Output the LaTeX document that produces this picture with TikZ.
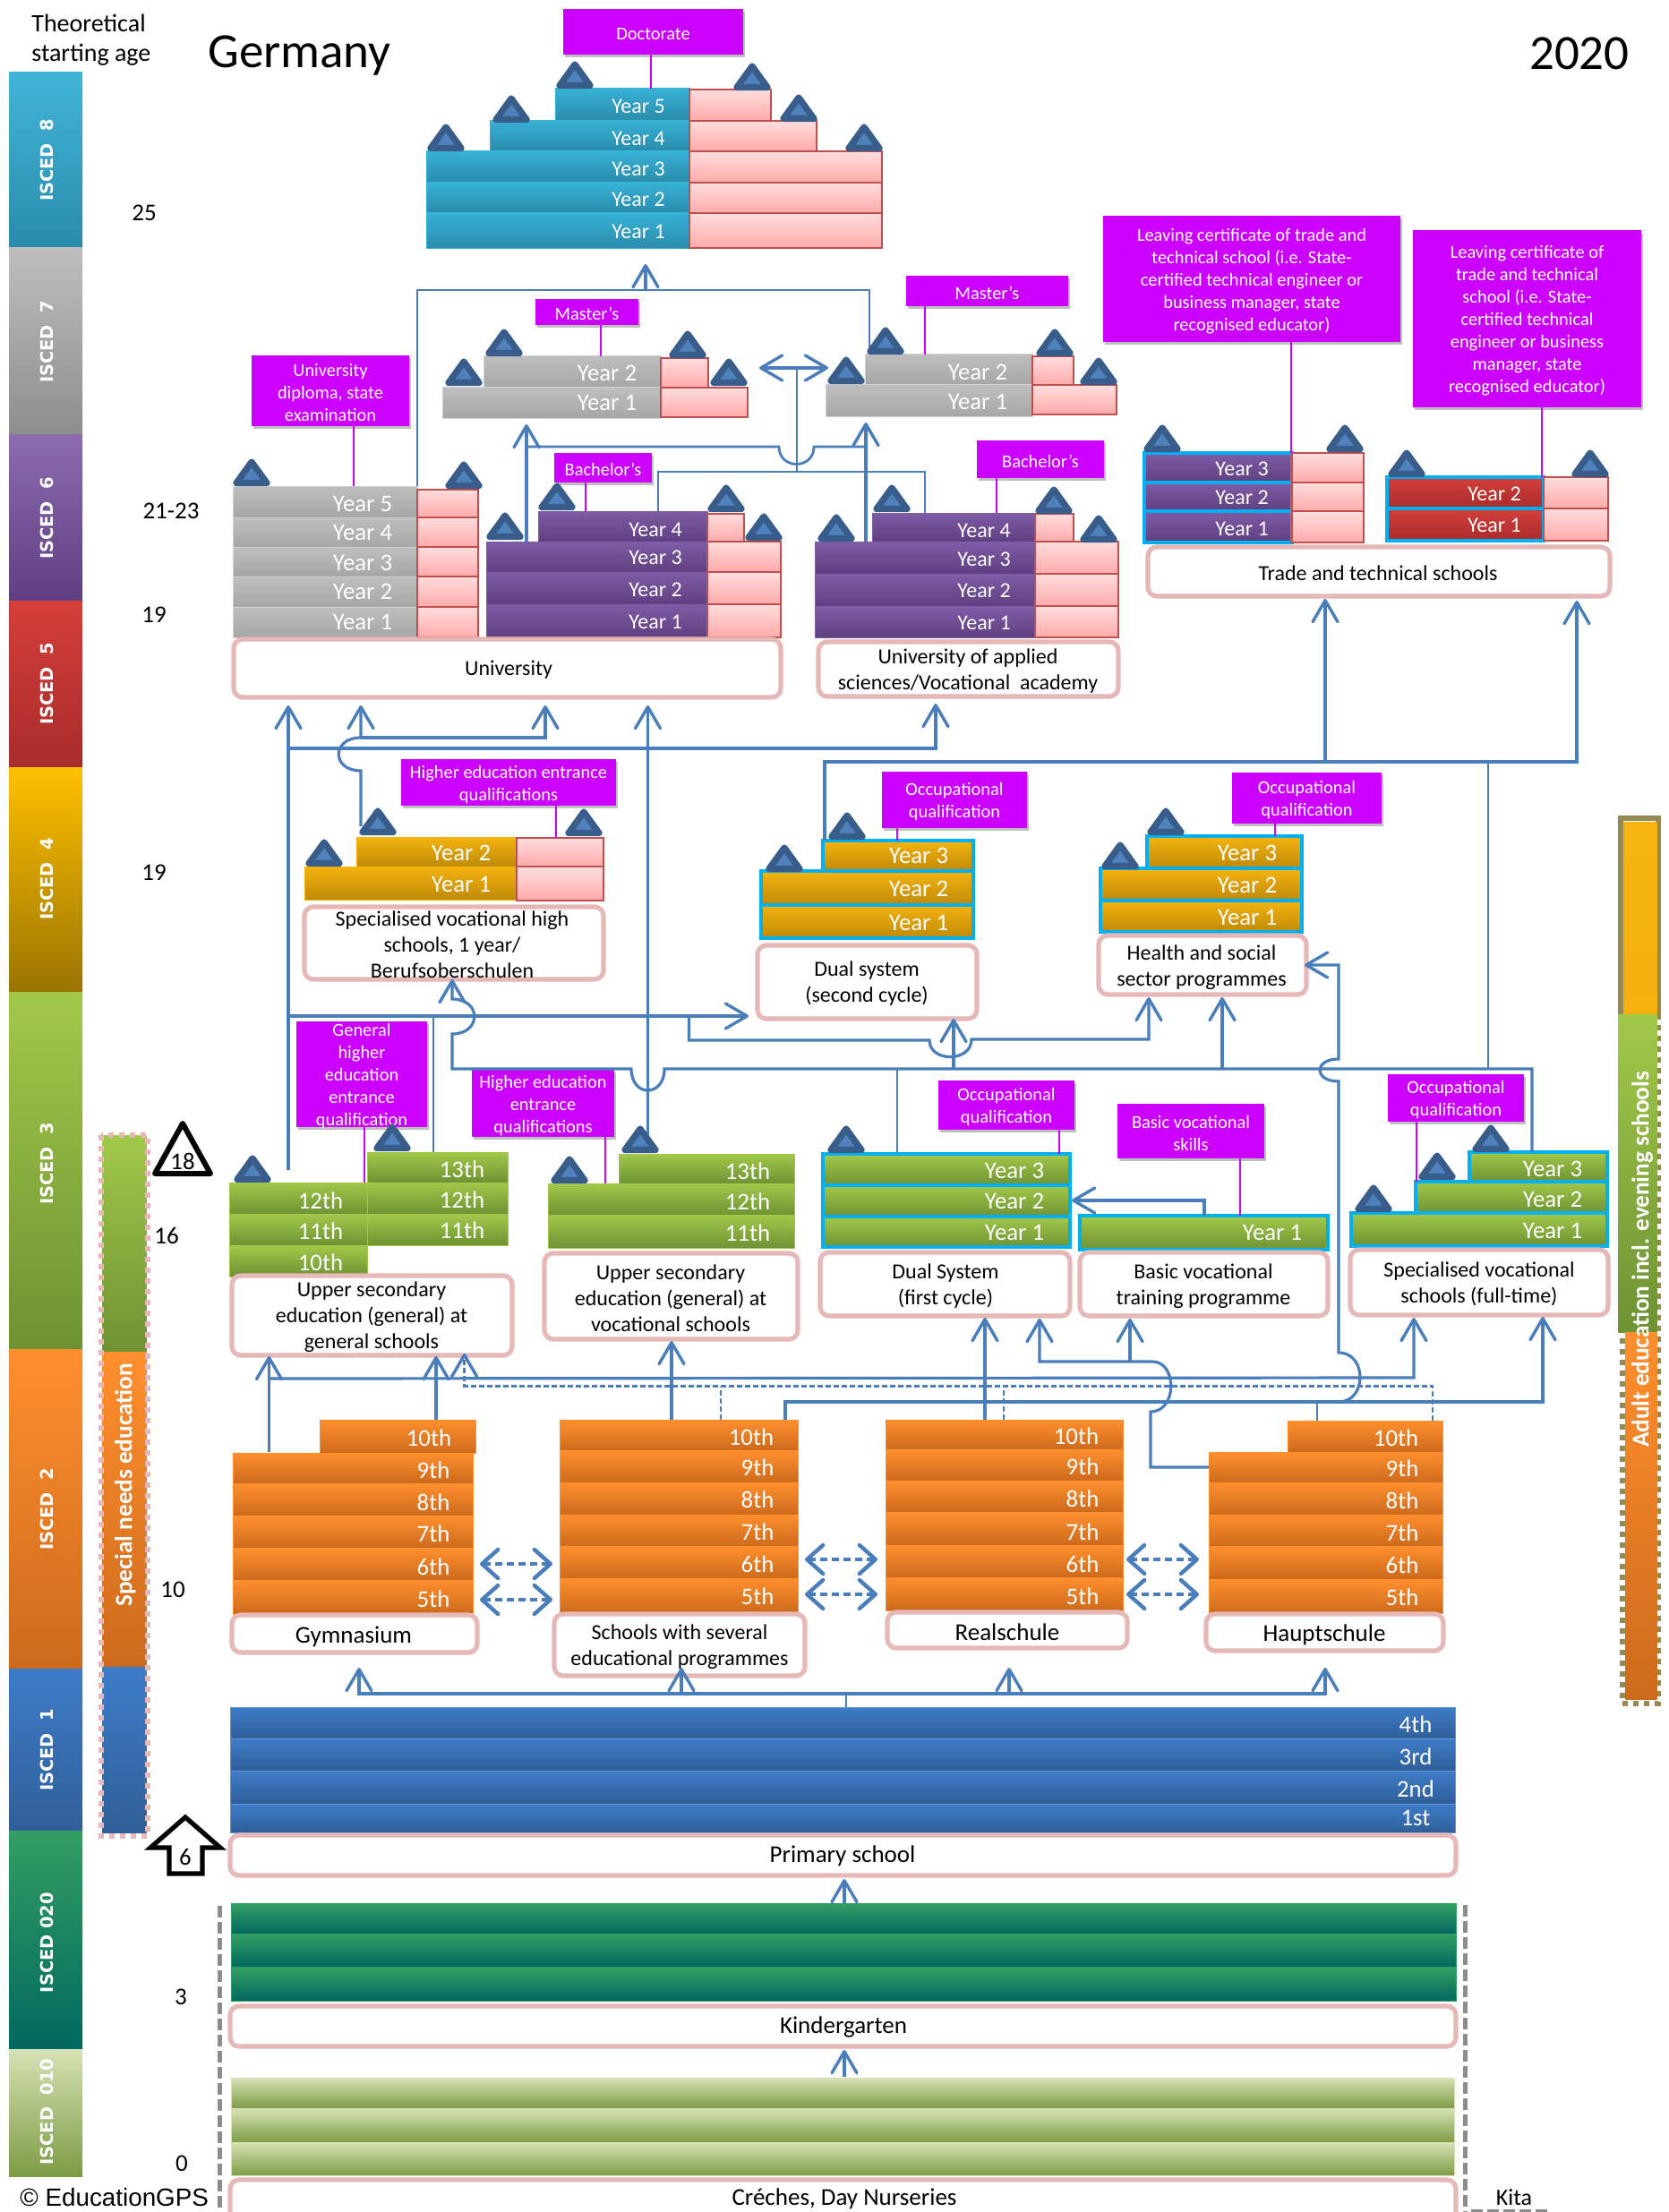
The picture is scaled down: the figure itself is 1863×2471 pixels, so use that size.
\documentclass[tikz,border=0pt]{standalone}
\usepackage{fontspec}
\setmainfont{Carlito}
\newfontfamily\iscedf{DejaVu Sans}
\newfontfamily\arialf{Liberation Sans}
\usetikzlibrary{arrows.meta,shadows}
\definecolor{cyT}{HTML}{37B1D6}\definecolor{cyB}{HTML}{2A8BAB}
\definecolor{grT}{HTML}{BEBEBE}\definecolor{grB}{HTML}{A6A6A6}
\definecolor{puT}{HTML}{7F5CA6}\definecolor{puB}{HTML}{5F3F80}
\definecolor{reT}{HTML}{D43F3A}\definecolor{reB}{HTML}{A82B2B}
\definecolor{yeT}{HTML}{F4B30F}\definecolor{yeB}{HTML}{C08A08}
\definecolor{iyT}{HTML}{FFC000}\definecolor{iyB}{HTML}{9A7400}
\definecolor{geT}{HTML}{A2C84A}\definecolor{geB}{HTML}{6E9233}
\definecolor{orT}{HTML}{FF8F2E}\definecolor{orB}{HTML}{CC6A1C}
\definecolor{blT}{HTML}{3E7CC8}\definecolor{blB}{HTML}{2F5F98}
\definecolor{dgT}{HTML}{339E63}\definecolor{dgB}{HTML}{00685F}
\definecolor{lgT}{HTML}{D6E2B4}\definecolor{lgB}{HTML}{7D9B45}
\definecolor{rdT}{HTML}{FFDDDD}\definecolor{rdB}{HTML}{FFAAAA}
\definecolor{rdL}{HTML}{C0504D}
\definecolor{frm}{HTML}{00B0F0}
\definecolor{pnk}{HTML}{E6B8B7}
\definecolor{mag}{HTML}{CC00FF}
\definecolor{cnn}{HTML}{4A7EBB}
\definecolor{triF}{HTML}{4F81BD}\definecolor{triL}{HTML}{385D8A}
\definecolor{olv}{HTML}{948A54}
\tikzset{
 cyrow/.style={top color=cyT,bottom color=cyB,draw=cyT,line width=.5pt},
 grrow/.style={top color=grT,bottom color=grB,draw=grT!70!white,line width=.5pt},
 purow/.style={top color=puT,bottom color=puB,draw=puT,line width=.5pt},
 rerow/.style={top color=reT,bottom color=reB,draw=reT,line width=.5pt},
 yerow/.style={top color=yeT,bottom color=yeB,draw=yeT,line width=.5pt},
 gerow/.style={top color=geT,bottom color=geB,draw=geT,line width=.5pt},
 orrow/.style={top color=orT,bottom color=orB,draw=orT,line width=.5pt},
 blrow/.style={top color=blT,bottom color=blB,draw=blT!80!white,line width=.5pt},
 dgrow/.style={top color=dgT,bottom color=dgB,draw=dgT,line width=.5pt},
 lgrow/.style={top color=lgT,bottom color=lgB,draw=lgT,line width=.5pt},
 rdrow/.style={top color=rdT,bottom color=rdB,draw=rdL,line width=1.4pt},
 framed/.style={draw=frm,line width=2.4pt},
 yt/.style={text=white,font=\fontsize{\ytz}{\ytz}\selectfont,inner sep=0pt},
 whitebox/.style={draw=pnk,fill=white,line width=2.6pt,rounded corners=5pt,inner sep=0pt},
 wt/.style={text=black,align=center,inner sep=0pt,yshift=-.8pt,font=\fontsize{12}{14.5}\selectfont},
 wtb/.style={text=black,align=center,inner sep=0pt,yshift=-.8pt,font=\fontsize{13.5}{14.5}\selectfont},
 lab/.style={fill=mag,drop shadow={shadow xshift=1pt,shadow yshift=-1.5pt,opacity=.25,fill=black}},
 labt/.style={text=white,align=center,inner sep=0pt,yshift=-1.1pt,font=\fontsize{10.2}{12.5}\selectfont},
 magl/.style={draw=mag,line width=1.2pt},
 conn/.style={draw=cnn,line width=1.4pt},
 arr/.style={conn,line width=1.6pt,-{Straight Barb[length=12pt,width=14pt,line width=1.7pt,round]}},
 arrb/.style={conn,line width=1.6pt,{Straight Barb[length=12pt,width=14pt,line width=1.7pt,round]}-{Straight Barb[length=12pt,width=14pt,line width=1.7pt,round]}},
 dsh/.style={conn,dash pattern=on 3pt off 1.5pt},
 darr/.style={dsh,-{Straight Barb[length=12pt,width=14pt,line width=1.7pt,round]}},
 dbl/.style={draw=cnn,line width=2.4pt,dash pattern=on 4pt off 2.5pt,{Straight Barb[length=9pt,width=16pt,line width=2.2pt,round]}-{Straight Barb[length=9pt,width=16pt,line width=2.2pt,round]}},
 iscedt/.style={text=white,rotate=90,inner sep=0pt,font=\iscedf\bfseries\fontsize{9.7}{10}\selectfont},
 bart/.style={text=white,rotate=90,inner sep=0pt,font=\bfseries\fontsize{13.6}{14}\selectfont},
 age/.style={text=black,inner sep=0pt,font=\fontsize{13.5}{16}\selectfont},
 greydash/.style={draw=gray!90,line width=2.3pt,dash pattern=on 6.5pt off 2.5pt},
}
\def\ytz{12}
\newcommand\yb[9]{%
 \node[#6,anchor=north west,inner sep=0pt,outer sep=0pt,minimum width={(#4-#2)*0.5pt},minimum height={(#5-#3)*0.5pt}] (#1) at (#2,#3) {};
 \node[yt] (#1t) at (#7,#8) {#9};}
\newcommand\rb[5]{%
 \node[rdrow,anchor=north west,inner sep=0pt,outer sep=0pt,minimum width={(#4-#2)*0.5pt},minimum height={(#5-#3)*0.5pt}] (#1) at (#2,#3) {};}
\newcommand\whb[8]{% name x1 y1 x2 y2 tx ty text, 12pt
 \node[whitebox,anchor=north west,outer sep=0pt,minimum width={(#4-#2)*0.5pt},minimum height={(#5-#3)*0.5pt}] (#1) at (#2,#3) {};
 \node[wt] (#1t) at (#6,#7) {#8};}
\newcommand\whc[8]{% same, 13.5pt
 \node[whitebox,anchor=north west,outer sep=0pt,minimum width={(#4-#2)*0.5pt},minimum height={(#5-#3)*0.5pt}] (#1) at (#2,#3) {};
 \node[wtb] (#1t) at (#6,#7) {#8};}
\newcommand\lb[6]{%
 \node[lab,inner sep=0pt,anchor=north west,outer sep=0pt,minimum width={(#4-#2)*0.5pt},minimum height={(#5-#3)*0.5pt}] (#1) at (#2,#3) {};
 \node[labt] (#1t) at (#1.center) {#6};}
\newcommand\mline[3]{% label, x, box
 \coordinate (mlx) at (#2,0);
 \draw[magl] (#1.south -| mlx) -- (#3.north -| mlx);}
\newcommand\tri[2]{%
 \fill[triF,draw=triL,line width=3.6pt,line join=round] (#1-17,#2-3.5) -- (#1+17,#2-3.5) -- (#1,#2-27) -- cycle;}
\newcommand\isc[7]{% name y1 y2 top bot label cy
 \node[top color=#4,bottom color=#5,anchor=north west,inner sep=0pt,outer sep=0pt,minimum width=41pt,minimum height={(#3-#2)*0.5pt}] (#1) at (10,#2) {};
 \node[iscedt] (#1t) at (52,#7) {#6};}
\begin{document}
\begin{tikzpicture}[x=0.5pt,y=-0.5pt]
\useasboundingbox (0,0) rectangle (1863,2471);
\fill[white] (0,0) rectangle (1863,2471);
% ISCED column
\isc{i8}{81}{277}{cyT!95!white}{cyB}{ISCED\ \ 8}{179}
\isc{i7}{277}{486}{grT}{grB!85!black}{ISCED\ \ 7}{382}
\isc{i6}{486}{671}{puT!90!white}{puB}{ISCED\ \ 6}{579}
\isc{i5}{671}{857}{reT}{reB}{ISCED\ \ 5}{764}
\isc{i4}{857}{1108}{iyT}{iyB}{ISCED\ \ 4}{982}
\isc{i3}{1108}{1507}{geT}{geB}{ISCED\ \ 3}{1300}
\isc{i2}{1507}{1864}{orT}{orB}{ISCED\ \ 2}{1686}
\isc{i1}{1864}{2045}{blT}{blB}{ISCED\ \ 1}{1955}
\isc{i020}{2045}{2289}{dgT}{dgB}{ISCED 020}{2170}
\isc{i010}{2289}{2431}{lgT}{lgB}{ISCED\ \ 010}{2359}
% headers
\node[age,anchor=west,align=left,font=\fontsize{14}{16.5}\selectfont] (theo) at (35,45) {Theoretical\\starting age};
\node[inner sep=0pt,anchor=west,font=\fontsize{27.5}{30}\selectfont] (ger) at (232,62) {Germany};
\node[inner sep=0pt,anchor=east,font=\fontsize{27.5}{30}\selectfont] (yr) at (1820,60) {2020};
\node[age] (a25) at (161,238) {25};
\node[age] (a21) at (191,571) {21-23};
\node[age] (a19a) at (172,687) {19};
\node[age] (a19b) at (172,975) {19};
\node[age] (a16) at (186,1380) {16};
\node[age] (a10) at (193,1776) {10};
\node[age] (a3) at (202,2231) {3};
\node[age] (a0) at (203,2417) {0};
\node[inner sep=0pt,anchor=west,font=\arialf\fontsize{13.9}{14}\selectfont] (cp) at (22,2455) {© EducationGPS};
\node[inner sep=0pt,font=\fontsize{13}{14}\selectfont] (kita) at (1691,2455) {Kita};
% Doctorate
\def\ytz{12}
\yb{d5}{620}{99}{770}{135}{cyrow}{713}{119}{Year 5}
\yb{d4}{547}{135}{770}{169}{cyrow}{713}{155}{Year 4}
\yb{d3}{476}{169}{770}{204}{cyrow}{713}{189}{Year 3}
\yb{d2}{476}{204}{770}{238}{cyrow}{713}{223}{Year 2}
\yb{d1}{476}{238}{770}{278}{cyrow}{713}{259}{Year 1}
\rb{dr5}{770}{100}{861}{135}
\rb{dr4}{770}{135}{912}{169}
\rb{dr3}{770}{169}{985}{204}
\rb{dr2}{770}{204}{985}{238}
\rb{dr1}{770}{238}{985}{277}
\lb{doc}{629}{10}{830}{61}{Doctorate}
\mline{doc}{727}{d5}
% University grey
\def\ytz{13.4}
\yb{ug5}{260}{543}{466}{578}{grrow}{405}{563}{Year 5}
\yb{ug4}{260}{578}{466}{611}{grrow}{405}{595}{Year 4}
\yb{ug3}{260}{611}{466}{644}{grrow}{405}{629}{Year 3}
\yb{ug2}{260}{644}{466}{678}{grrow}{405}{661}{Year 2}
\yb{ug1}{260}{678}{466}{712}{grrow}{405}{695}{Year 1}
\rb{ugr5}{466}{547}{534}{578}
\rb{ugr4}{466}{578}{534}{611}
\rb{ugr3}{466}{611}{534}{644}
\rb{ugr2}{466}{644}{534}{678}
\rb{ugr1}{466}{678}{534}{712}
\lb{dipl}{281}{397}{457}{476}{University\\diploma, state\\examination}
\mline{dipl}{395}{ug5}
% Masters left
\yb{ml2}{540}{398}{738}{433}{grrow}{678}{417}{Year 2}
\yb{ml1}{494}{433}{738}{468}{grrow}{678}{450}{Year 1}
\rb{mlr2}{738}{400}{791}{433}
\rb{mlr1}{738}{433}{835}{466}
\lb{mast1}{598}{334}{713}{363}{Master’s}
\mline{mast1}{671}{ml2}
% Masters right
\yb{mr2}{966}{396}{1153}{430}{grrow}{1092}{416}{Year 2}
\yb{mr1}{922}{430}{1153}{466}{grrow}{1092}{449}{Year 1}
\rb{mrr2}{1153}{398}{1199}{430}
\rb{mrr1}{1153}{430}{1247}{463}
\lb{mast2}{1012}{308}{1193}{342}{Master’s}
\mline{mast2}{1033}{mr2}
% Bachelor uni
\def\ytz{12}
\yb{bu4}{601}{571}{790}{605}{purow}{732}{592}{Year 4}
\yb{bu3}{543}{605}{790}{639}{purow}{732}{623}{Year 3}
\yb{bu2}{543}{639}{790}{675}{purow}{732}{659}{Year 2}
\yb{bu1}{543}{675}{790}{712}{purow}{732}{695}{Year 1}
\rb{bur4}{790}{574}{831}{605}
\rb{bur3}{790}{605}{872}{639}
\rb{bur2}{790}{639}{872}{675}
\rb{bur1}{790}{675}{872}{712}
\lb{bach1}{619}{506}{728}{539}{Bachelor’s}
\mline{bach1}{654}{bu4}
\whb{uni}{261}{714}{872}{779}{568}{747}{University}
% UAS
\yb{ua4}{974}{573}{1156}{605}{purow}{1099}{593}{Year 4}
\yb{ua3}{910}{605}{1156}{641}{purow}{1099}{625}{Year 3}
\yb{ua2}{910}{641}{1156}{677}{purow}{1099}{660}{Year 2}
\yb{ua1}{910}{677}{1156}{712}{purow}{1099}{696}{Year 1}
\rb{uar4}{1156}{574}{1199}{605}
\rb{uar3}{1156}{605}{1249}{641}
\rb{uar2}{1156}{641}{1249}{677}
\rb{uar1}{1156}{677}{1249}{712}
\lb{bach2}{1091}{492}{1233}{534}{Bachelor’s}
\mline{bach2}{1113}{ua4}
\whb{uas}{914}{717}{1249}{778}{1081}{748}{University of applied\\sciences/Vocational\ \ academy}
% Trade
\yb{tp3}{1278}{506}{1443}{539}{purow,framed}{1387}{524}{Year 3}
\yb{tp2}{1278}{539}{1443}{571}{purow,framed}{1387}{556}{Year 2}
\yb{tp1}{1278}{571}{1443}{606}{purow,framed}{1387}{591}{Year 1}
\rb{tpr3}{1443}{506}{1523}{539}
\rb{tpr2}{1443}{539}{1523}{571}
\rb{tpr1}{1443}{571}{1523}{606}
\yb{tq2}{1549}{533}{1724}{568}{rerow,framed}{1669}{552}{Year 2}
\yb{tq1}{1549}{568}{1724}{604}{rerow,framed}{1669}{587}{Year 1}
\rb{tqr2}{1724}{533}{1796}{568}
\rb{tqr1}{1724}{568}{1796}{604}
\lb{leav1}{1232}{241}{1564}{382}{Leaving certificate of trade and\\technical school (i.e. State-\\certified technical engineer or\\business manager, state\\recognised educator)}
\mline{leav1}{1442}{tp3}
\lb{leav2}{1578}{257}{1833}{455}{Leaving certificate of\\trade and technical\\school (i.e. State-\\certified technical\\engineer or business\\manager, state\\recognised educator)}
\mline{leav2}{1722}{tq2}
\whb{trade}{1282}{611}{1798}{666}{1539}{639}{Trade and technical schools}
% Specialised vocational high
\def\ytz{13.4}
\yb{sv2}{398}{935}{577}{968}{yerow}{515}{953}{Year 2}
\yb{sv1}{340}{968}{577}{1005}{yerow}{515}{988}{Year 1}
\rb{svr2}{577}{936}{674}{968}
\rb{svr1}{577}{968}{674}{1006}
\lb{hq1}{448}{848}{688}{900}{Higher education entrance\\qualifications}
\mline{hq1}{621}{svr2}
\whb{svw}{340}{1013}{674}{1094}{505}{1054}{Specialised vocational high\\schools, 1 year/\\Berufsoberschulen}
% Dual second
\yb{ds3}{919}{939}{1087}{973}{yerow,framed}{1026}{956}{Year 3}
\yb{ds2}{850}{973}{1087}{1011}{yerow,framed}{1026}{993}{Year 2}
\yb{ds1}{850}{1011}{1087}{1048}{yerow,framed}{1026}{1031}{Year 1}
\lb{oq1}{985}{862}{1147}{925}{Occupational\\qualification}
\mline{oq1}{1002}{ds3}
\whb{dsw}{846}{1056}{1091}{1138}{968}{1097}{Dual system\\(second cycle)}
% Health
\yb{he3}{1281}{934}{1454}{970}{yerow,framed}{1393}{953}{Year 3}
\yb{he2}{1229}{970}{1454}{1006}{yerow,framed}{1393}{989}{Year 2}
\yb{he1}{1229}{1006}{1454}{1041}{yerow,framed}{1393}{1025}{Year 1}
\lb{oq2}{1376}{863}{1543}{920}{Occupational\\qualification}
\mline{oq2}{1424}{he3}
\whb{hew}{1227}{1045}{1459}{1111}{1342}{1079}{Health and social\\sector programmes}
% Upper secondary general
\yb{ug12}{256}{1321}{410}{1356}{gerow}{358}{1341}{12th}
\yb{ug11}{256}{1356}{410}{1391}{gerow}{358}{1375}{11th}
\yb{ug10}{256}{1391}{410}{1426}{gerow}{358}{1410}{10th}
\yb{uh13}{410}{1287}{567}{1321}{gerow}{516}{1306}{13th}
\yb{uh12}{410}{1321}{567}{1356}{gerow}{516}{1340}{12th}
\yb{uh11}{410}{1356}{567}{1391}{gerow}{516}{1374}{11th}
\lb{gen}{331}{1141}{477}{1259}{General\\higher\\education\\entrance\\qualification}
\mline{gen}{407}{ug12}
\whb{ugw}{259}{1425}{572}{1514}{415}{1470}{Upper secondary\\education (general) at\\general schools}
% Upper secondary vocational
\yb{uv13}{691}{1289}{887}{1322}{gerow}{835}{1308}{13th}
\yb{uv12}{612}{1322}{887}{1357}{gerow}{835}{1342}{12th}
\yb{uv11}{612}{1357}{887}{1394}{gerow}{835}{1377}{11th}
\lb{hq2}{527}{1195}{686}{1270}{Higher education\\entrance\\qualifications}
\mline{hq2}{676}{uv12}
\whb{uvw}{608}{1400}{891}{1496}{749}{1449}{Upper secondary\\education (general) at\\vocational schools}
% Dual first
\yb{df3}{919}{1289}{1195}{1324}{gerow,framed}{1133}{1308}{Year 3}
\yb{df2}{919}{1324}{1195}{1359}{gerow,framed}{1133}{1342}{Year 2}
\yb{df1}{919}{1359}{1195}{1393}{gerow,framed}{1133}{1377}{Year 1}
\lb{oq3}{1048}{1207}{1200}{1262}{Occupational\\qualification}
\mline{oq3}{1183}{df3}
\whb{dfw}{916}{1399}{1195}{1470}{1056}{1435}{Dual System\\(first cycle)}
% Basic
\yb{bv1}{1206}{1358}{1483}{1396}{gerow,framed}{1421}{1377}{Year 1}
\lb{bvq}{1248}{1233}{1412}{1294}{Basic vocational\\skills}
\mline{bvq}{1385}{bv1}
\whb{bvw}{1206}{1399}{1483}{1470}{1344}{1435}{Basic vocational\\training programme}
% Specialised
\yb{sp3}{1641}{1287}{1795}{1320}{gerow,framed}{1734}{1306}{Year 3}
\yb{sp2}{1581}{1320}{1795}{1355}{gerow,framed}{1734}{1340}{Year 2}
\yb{sp1}{1509}{1355}{1795}{1392}{gerow,framed}{1734}{1375}{Year 1}
\lb{oq4}{1550}{1200}{1702}{1253}{Occupational\\qualification}
\mline{oq4}{1582}{sp2}
\whb{spw}{1508}{1396}{1796}{1469}{1652}{1433}{Specialised vocational\\schools (full-time)}
% Orange
\yb{g10}{357}{1586}{531}{1623}{orrow}{479}{1606}{10th}
\yb{g9}{260}{1623}{528}{1657}{orrow}{484}{1642}{9th}
\yb{g8}{260}{1657}{528}{1693}{orrow}{484}{1678}{8th}
\yb{g7}{260}{1693}{528}{1729}{orrow}{484}{1713}{7th}
\yb{g6}{260}{1729}{528}{1765}{orrow}{484}{1750}{6th}
\yb{g5}{260}{1765}{528}{1803}{orrow}{484}{1786}{5th}
\whc{gw}{259}{1804}{533}{1846}{395}{1827}{Gymnasium}
\yb{s10}{625}{1586}{891}{1620}{orrow}{839}{1605}{10th}
\yb{s9}{625}{1620}{891}{1656}{orrow}{846}{1639}{9th}
\yb{s8}{625}{1656}{891}{1692}{orrow}{846}{1675}{8th}
\yb{s7}{625}{1692}{891}{1727}{orrow}{846}{1711}{7th}
\yb{s6}{625}{1727}{891}{1763}{orrow}{846}{1747}{6th}
\yb{s5}{625}{1763}{891}{1801}{orrow}{846}{1783}{5th}
\whb{sw}{619}{1803}{899}{1872}{759}{1838}{Schools with several\\educational programmes}
\yb{r10}{989}{1586}{1254}{1619}{orrow}{1202}{1604}{10th}
\yb{r9}{989}{1619}{1254}{1654}{orrow}{1209}{1638}{9th}
\yb{r8}{989}{1654}{1254}{1689}{orrow}{1209}{1674}{8th}
\yb{r7}{989}{1689}{1254}{1726}{orrow}{1209}{1711}{7th}
\yb{r6}{989}{1726}{1254}{1762}{orrow}{1209}{1747}{6th}
\yb{r5}{989}{1762}{1254}{1799}{orrow}{1209}{1783}{5th}
\whc{rw}{991}{1801}{1259}{1841}{1125}{1822}{Realschule}
\yb{h10}{1438}{1587}{1611}{1622}{orrow}{1559}{1606}{10th}
\yb{h9}{1350}{1622}{1611}{1656}{orrow}{1566}{1640}{9th}
\yb{h8}{1350}{1656}{1611}{1692}{orrow}{1566}{1676}{8th}
\yb{h7}{1350}{1692}{1611}{1727}{orrow}{1566}{1712}{7th}
\yb{h6}{1350}{1727}{1611}{1764}{orrow}{1566}{1748}{6th}
\yb{h5}{1350}{1764}{1611}{1802}{orrow}{1566}{1784}{5th}
\whc{hw}{1347}{1803}{1612}{1844}{1479}{1825}{Hauptschule}
% Primary
\yb{p4}{257}{1907}{1625}{1942}{blrow}{1581}{1926}{4th}
\yb{p3}{257}{1942}{1625}{1978}{blrow}{1581}{1962}{3rd}
\yb{p2}{257}{1978}{1625}{2015}{blrow}{1581}{1998}{2nd}
\yb{p1}{257}{2015}{1625}{2047}{blrow}{1581}{2031}{1st}
\whc{pw}{257}{2050}{1626}{2095}{941}{2072}{Primary school}
% Kindergarten
\node[dgrow,anchor=north west,inner sep=0pt,minimum width=684pt,minimum height=17pt] (k3) at (258,2126) {};
\node[dgrow,anchor=north west,inner sep=0pt,minimum width=684pt,minimum height=18.5pt] (k2) at (258,2160) {};
\node[dgrow,anchor=north west,inner sep=0pt,minimum width=684pt,minimum height=18.75pt] (k1) at (258,2197.5) {};
\whc{kw}{257}{2241}{1626}{2286}{942}{2263}{Kindergarten}
\node[lgrow,anchor=north west,inner sep=0pt,minimum width=683pt,minimum height=17pt] (n3) at (258,2321) {};
\node[lgrow,anchor=north west,inner sep=0pt,minimum width=683pt,minimum height=19pt] (n2) at (258,2355) {};
\node[lgrow,anchor=north west,inner sep=0pt,minimum width=683pt,minimum height=18.5pt] (n1) at (258,2393) {};
\whc{nw}{257}{2435}{1626}{2482}{943}{2455}{Créches, Day Nurseries}
\coordinate (gl1) at (245.6,2129); \coordinate (gl2) at (245.6,2471); \draw[greydash] (gl1) -- (gl2);
\coordinate (gr1) at (1636.5,2128); \coordinate (gr2) at (1636.5,2471); \draw[greydash] (gr1) -- (gr2);
\coordinate (gb1) at (1643,2470); \coordinate (gb2) at (1730,2470); \draw[greydash,line width=2pt] (gb1) -- (gb2);
% Special needs bar
\node[top color=geT,bottom color=geB,anchor=north west,inner sep=0pt,minimum width=24.5pt,minimum height=121pt] (sn1) at (114,1268) {};
\node[top color=orT,bottom color=orB,anchor=north west,inner sep=0pt,minimum width=24.5pt,minimum height=176pt] (sn2) at (114,1510) {};
\node[top color=blT,bottom color=blB,anchor=north west,inner sep=0pt,minimum width=24.5pt,minimum height=92.5pt] (sn3) at (114,1862) {};
\path[draw=pnk,line width=3pt,dash pattern=on 3pt off 3pt] (113,1268) rectangle (165,2051);
\node[bart] (snt) at (140,1659) {Special needs education};
% Adult bar
\draw[olv,line width=3pt] (1810,1133) -- (1810,914) -- (1852,914) -- (1852,1133);
\draw[olv,line width=3pt,dash pattern=on 3pt off 3pt] (1852,1133) -- (1852,1903) -- (1812,1903) -- (1812,1488);
\node[top color=yeT,bottom color=yeT!95!orange,anchor=north west,inner sep=0pt,minimum width=18.5pt,minimum height=107pt] (ad1) at (1813,918) {};
\node[top color=geT,bottom color=geB,anchor=north west,inner sep=0pt,minimum width=21.5pt,minimum height=177.5pt] (ad2) at (1807,1133) {};
\node[top color=orT,bottom color=orB,anchor=north west,inner sep=0pt,minimum width=17.5pt,minimum height=205pt] (ad3) at (1815,1488) {};
\node[bart] (adt) at (1834,1407) {Adult education incl. evening schools};
% Age markers
\draw[black,line width=3pt,line join=round,fill=white] (204,1255) -- (235,1311) -- (173,1311) -- cycle;
\node[inner sep=0pt,font=\fontsize{13.4}{14}\selectfont] (a18) at (204,1297) {18};
\draw[black,line width=2.6pt,fill=white,line join=miter] (207,2030) -- (246,2064) -- (226,2064) -- (226,2093) -- (189,2093) -- (189,2064) -- (168,2064) -- cycle;
\node[inner sep=0pt,font=\fontsize{13.4}{14}\selectfont] (a6) at (207,2075) {6};
% Connectors
\coordinate (uR) at (466,543); \coordinate (mR) at (971,396);
\draw[conn] (uR) -- (466,324) -- (971,324) -- (mR);
\coordinate (dJ) at (721,324); \coordinate (dT) at (721,295);
\draw[arr] (dJ) -- (dT);
\coordinate (b3t) at (588,605); \coordinate (m1t) at (588,474); \draw[arr] (b3t) -- (m1t);
\coordinate (u3t) at (967,605); \coordinate (m2t) at (967,472); \draw[arr] (u3t) -- (m2t);
\coordinate (hA) at (588,499); \coordinate (hB) at (967,499);
\draw[conn] (hA) -- (870,499) .. controls (870,525) and (909,525) .. (909,499) -- (hB);
\coordinate (vA) at (890,527); \coordinate (vB) at (890,411); \draw[conn] (vA) -- (vB);
\coordinate (dL) at (848,411); \coordinate (dR) at (925,411); \draw[arrb] (dL) -- (dR);
\coordinate (bY4) at (735,571); \coordinate (uY4) at (1033,573);
\draw[conn] (bY4) -- (735,527) -- (1033,527) -- (uY4);
% below university
\coordinate (g12a) at (322,1307); \coordinate (uaT) at (322,788); \draw[arr] (g12a) -- (uaT);
\coordinate (hC) at (322,836); \coordinate (uasT) at (1045,786); \draw[arr] (hC) -- (1045,836) -- (uasT);
\coordinate (sv2t) at (403,923); \coordinate (ub2) at (403,788);
\draw[arr] (sv2t) -- (403,861) .. controls (370,861) and (370,824) .. (403,824) -- (ub2);
\coordinate (ub2j) at (403,824); \coordinate (ub3) at (609,788); \draw[arr] (ub2j) -- (609,824) -- (ub3);
\coordinate (v13) at (723.5,1288); \coordinate (ub4) at (723.5,788); \draw[arr] (v13) -- (ub4);
% trade
\coordinate (dy3) at (921,939); \coordinate (tr2) at (1761,671);
\draw[arr] (dy3) -- (921,851) -- (1761,851) -- (tr2);
\coordinate (trj) at (1480,851); \coordinate (tr1) at (1480,669); \draw[arr] (trj) -- (tr1);
\coordinate (vr1) at (1662,851); \coordinate (vr2) at (1662,1194); \draw[conn] (vr1) -- (vr2);
% y=1135
\coordinate (hD) at (322,1135); \coordinate (dual2) at (836,1135); \draw[arr] (hD) -- (dual2);
\coordinate (g13) at (484,1287); \coordinate (g13j) at (484,1135); \draw[conn] (g13) -- (g13j);
\coordinate (specT) at (1711,1287); \coordinate (svT) at (505,1094);
\draw[arr] (specT) -- (1711,1194) -- (742,1194) .. controls (742,1226) and (705,1226) .. (705,1194) -- (505,1194) -- (505,1155) .. controls (538,1155) and (538,1116) .. (505,1116) -- (svT);
\coordinate (df3t) at (1002,1288); \coordinate (df3j) at (1002,1194); \draw[conn] (df3t) -- (df3j);
\coordinate (a1065a) at (1065,1194); \coordinate (a1065b) at (1065,1138); \draw[arr] (a1065a) -- (a1065b);
\coordinate (a1365a) at (1365,1194); \coordinate (a1365b) at (1365,1114); \draw[arr] (a1365a) -- (a1365b);
\coordinate (j770) at (769.5,1135); \coordinate (he1t) at (1283,1114);
\draw[arr] (j770) -- (769.5,1162) -- (1038,1162) .. controls (1038,1187) and (1085,1187) .. (1085,1161) -- (1283,1161) -- (he1t);
\coordinate (j1495) at (1495,1566); \coordinate (heR) at (1457,1078);
\draw[arr] (j1495) .. controls (1527,1566) and (1527,1511) .. (1495,1511) -- (1495,1208) .. controls (1467,1208) and (1467,1183) .. (1495,1183) -- (1495,1078) -- (heR);
% basic to dual
\coordinate (bvT) at (1345,1358); \coordinate (dfR) at (1197,1341); \draw[arr] (bvT) -- (1345,1341) -- (dfR);
% lower
\coordinate (g9t) at (300.5,1622); \coordinate (ugA) at (300.5,1515); \draw[arr] (g9t) -- (ugA);
\coordinate (g10t) at (487,1586); \coordinate (ugB) at (487,1515); \draw[arr] (g10t) -- (ugB);
\coordinate (hL) at (300.5,1540); \coordinate (spA) at (1579,1472); \draw[arr] (hL) -- (1579,1539) -- (spA);
\coordinate (h10d) at (1600,1587); \coordinate (ugC) at (518.6,1512);
\draw[darr] (h10d) -- (1600,1548.5) -- (518.6,1548.5) -- (ugC);
\coordinate (s10d) at (804.5,1586); \coordinate (s10j) at (804.5,1549); \draw[dsh,line width=1pt] (s10d) -- (s10j);
\coordinate (r10d) at (1121,1586); \coordinate (r10j) at (1121,1549); \draw[dsh,line width=1pt] (r10d) -- (r10j);
\coordinate (s10a) at (750,1586); \coordinate (uvB) at (750,1498); \draw[arr] (s10a) -- (uvB);
\coordinate (s10b) at (877,1586); \coordinate (spB) at (1723,1471); \draw[arr] (s10b) -- (877,1566) -- (1723,1566) -- (spB);
\coordinate (r10a) at (1100,1586); \coordinate (dfB) at (1100,1472); \draw[arr] (r10a) -- (dfB);
\coordinate (h10a) at (1471,1587); \coordinate (h10j) at (1471,1566); \draw[conn] (h10a) -- (h10j);
\coordinate (h9l) at (1350,1639); \coordinate (dfC) at (1161,1473);
\draw[arr] (h9l) -- (1285,1639) -- (1285,1577) .. controls (1315,1577) and (1315,1521) .. (1287,1521) -- (1161,1521) -- (dfC);
\coordinate (bvj) at (1262,1521); \coordinate (bvB) at (1262,1473); \draw[arr] (bvj) -- (bvB);
% primary
\coordinate (p4t) at (944.5,1907); \coordinate (pj) at (944.5,1892); \draw[conn,line width=1pt] (p4t) -- (pj);
\coordinate (gT) at (401,1863); \coordinate (hT) at (1480,1863); \draw[arrb] (gT) -- (401,1892) -- (1480,1892) -- (hT);
\coordinate (sj) at (761,1892); \coordinate (sT) at (761,1863); \draw[arr] (sj) -- (sT);
\coordinate (rj) at (1127,1892); \coordinate (rT) at (1127,1863); \draw[arr] (rj) -- (rT);
\coordinate (k3t) at (943,2126); \coordinate (pwb) at (943,2099); \draw[arr] (k3t) -- (pwb);
\coordinate (n3t) at (943,2320); \coordinate (kwb) at (943,2290); \draw[arr] (n3t) -- (kwb);
% double dashed
\foreach \nm/\xa/\xb/\yy in {da/536/617/1747,db/536/617/1787,dc/899/980/1742,dd/899/980/1781,de/1258/1339/1742,df/1258/1339/1781}{
 \coordinate (\nm1) at (\xa,\yy); \coordinate (\nm2) at (\xb,\yy); \draw[dbl] (\nm1) -- (\nm2);}
% triangles
\tri{642}{99}\tri{840}{101}\tri{571}{137}\tri{892}{136}\tri{498}{169}\tri{965}{169}
\tri{563}{398}\tri{518}{431}\tri{768}{400}\tri{814}{431}
\tri{945}{429}\tri{989}{396}\tri{1178}{398}\tri{1227}{430}
\tri{281}{543}\tri{518}{546}
\tri{564}{603}\tri{622}{570}\tri{811}{572}\tri{853}{604}
\tri{934}{605}\tri{996}{572}\tri{1177}{574}\tri{1227}{606}
\tri{1298}{505}\tri{1502}{505}\tri{1571}{533}\tri{1776}{533}
\tri{422}{933}\tri{362}{968}\tri{652}{934}
\tri{946}{938}\tri{876}{974}\tri{1302}{933}\tri{1251}{971}
\tri{282}{1321}\tri{438}{1286}\tri{636}{1322}\tri{715}{1288}\tri{945}{1288}
\tri{1534}{1354}\tri{1605}{1318}\tri{1665}{1287}
\end{tikzpicture}
\end{document}
